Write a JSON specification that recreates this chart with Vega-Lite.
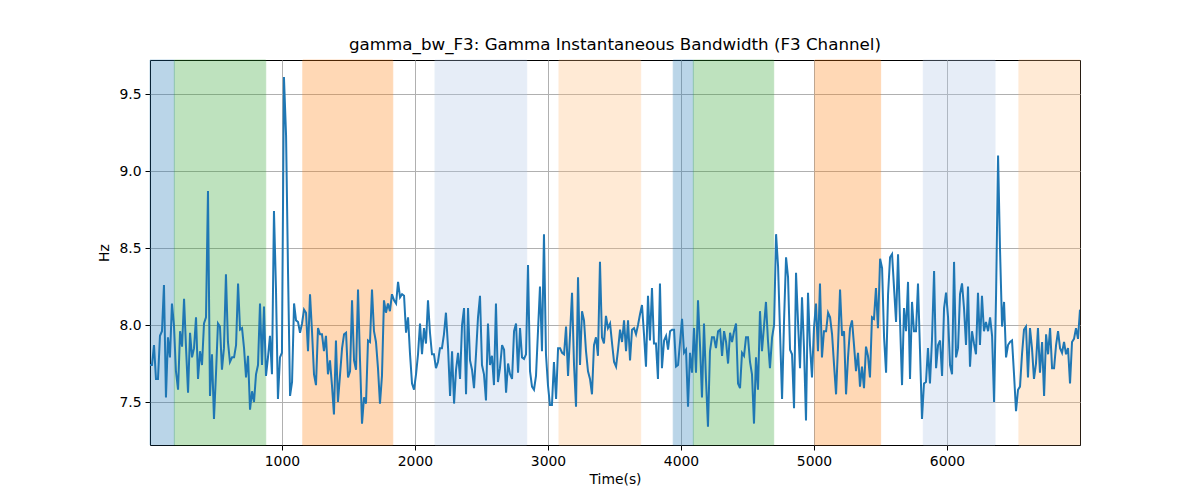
{
"$schema": "https://vega.github.io/schema/vega-lite/v6.json",
"autosize": {"type": "none"},
"width": 930,
"height": 385,
"padding": {"left": 150, "top": 60, "right": 120, "bottom": 55},
"title": {"text": "gamma_bw_F3: Gamma Instantaneous Bandwidth (F3 Channel)", "font": "DejaVu Sans", "fontSize": 16.7, "fontWeight": "normal", "color": "black", "offset": 6},
"config": {
  "font": "DejaVu Sans",
  "view": {"stroke": "black", "strokeWidth": 1},
  "axis": {"grid": true, "gridColor": "#b0b0b0", "gridWidth": 1, "domain": false, "tickColor": "black", "tickSize": 5, "tickWidth": 1, "labelFont": "DejaVu Sans", "labelFontSize": 13.9, "labelColor": "black", "titleFont": "DejaVu Sans", "titleFontSize": 13.9, "titleFontWeight": "normal", "titleColor": "black"}
},
"datasets": {
  "bands": [
    {"s": 8, "e": 191, "c": "b"}, {"s": 191, "e": 878, "c": "g"}, {"s": 1157, "e": 1833, "c": "o"}, {"s": 2151, "e": 2840, "c": "lb"}, {"s": 3083, "e": 3697, "c": "lo"},
    {"s": 3942, "e": 4093, "c": "b"}, {"s": 4093, "e": 4697, "c": "g"}, {"s": 5007, "e": 5501, "c": "o"}, {"s": 5822, "e": 6361, "c": "lb"}, {"s": 6541, "e": 7000, "c": "lo"}
  ],
  "sig": [
{"t":8,"v":7.74},{"t":23,"v":7.74},{"t":38,"v":7.87},{"t":53,"v":7.65},{"t":68,"v":7.65},{"t":83,"v":7.93},{"t":98,"v":7.96},{"t":113,"v":8.26},{"t":128,"v":7.53},{"t":143,"v":7.92},
{"t":158,"v":7.79},{"t":173,"v":8.14},{"t":188,"v":8.00},{"t":203,"v":7.70},{"t":219,"v":7.58},{"t":234,"v":7.96},{"t":249,"v":7.86},{"t":264,"v":8.17},{"t":279,"v":7.85},{"t":294,"v":7.56},
{"t":309,"v":7.95},{"t":324,"v":7.79},{"t":339,"v":7.85},{"t":354,"v":8.05},{"t":369,"v":7.65},{"t":384,"v":7.83},{"t":399,"v":7.74},{"t":414,"v":8.01},{"t":429,"v":8.05},{"t":444,"v":8.87},
{"t":459,"v":7.54},{"t":474,"v":7.81},{"t":489,"v":7.39},{"t":504,"v":7.68},{"t":519,"v":8.01},{"t":534,"v":7.99},{"t":549,"v":7.71},{"t":564,"v":7.85},{"t":579,"v":8.33},{"t":594,"v":7.89},
{"t":609,"v":7.76},{"t":625,"v":7.79},{"t":640,"v":7.79},{"t":655,"v":7.87},{"t":670,"v":8.27},{"t":685,"v":7.97},{"t":700,"v":7.98},{"t":715,"v":7.85},{"t":730,"v":7.66},{"t":745,"v":7.80},
{"t":760,"v":7.45},{"t":775,"v":7.57},{"t":790,"v":7.50},{"t":805,"v":7.68},{"t":820,"v":7.74},{"t":835,"v":8.14},{"t":850,"v":7.74},{"t":865,"v":8.12},{"t":880,"v":7.67},{"t":895,"v":7.79},
{"t":910,"v":7.93},{"t":925,"v":7.68},{"t":940,"v":8.74},{"t":955,"v":8.24},{"t":970,"v":7.52},{"t":985,"v":7.79},{"t":1000,"v":7.82},{"t":1015,"v":9.61},{"t":1031,"v":9.23},{"t":1046,"v":8.33},
{"t":1061,"v":7.54},{"t":1076,"v":7.63},{"t":1091,"v":8.14},{"t":1106,"v":8.03},{"t":1121,"v":8.02},{"t":1136,"v":7.95},{"t":1151,"v":8.01},{"t":1166,"v":8.10},{"t":1181,"v":8.08},{"t":1196,"v":7.83},
{"t":1211,"v":8.20},{"t":1226,"v":7.96},{"t":1241,"v":7.68},{"t":1256,"v":7.61},{"t":1271,"v":7.98},{"t":1286,"v":7.94},{"t":1301,"v":7.94},{"t":1316,"v":7.83},{"t":1331,"v":7.93},{"t":1346,"v":7.68},
{"t":1361,"v":7.77},{"t":1376,"v":7.61},{"t":1391,"v":7.42},{"t":1406,"v":7.90},{"t":1421,"v":7.50},{"t":1437,"v":7.68},{"t":1452,"v":7.85},{"t":1467,"v":7.94},{"t":1482,"v":7.95},{"t":1497,"v":7.66},
{"t":1512,"v":7.70},{"t":1527,"v":8.16},{"t":1542,"v":7.77},{"t":1557,"v":7.71},{"t":1572,"v":8.23},{"t":1587,"v":7.77},{"t":1602,"v":7.36},{"t":1617,"v":7.53},{"t":1632,"v":7.49},{"t":1647,"v":7.90},
{"t":1662,"v":7.89},{"t":1677,"v":8.23},{"t":1692,"v":7.96},{"t":1707,"v":7.89},{"t":1722,"v":7.72},{"t":1737,"v":7.49},{"t":1752,"v":7.67},{"t":1767,"v":8.16},{"t":1782,"v":8.08},{"t":1797,"v":8.14},
{"t":1812,"v":8.09},{"t":1827,"v":8.20},{"t":1843,"v":8.16},{"t":1858,"v":8.14},{"t":1873,"v":8.28},{"t":1888,"v":8.18},{"t":1903,"v":8.20},{"t":1918,"v":8.19},{"t":1933,"v":7.95},{"t":1948,"v":8.05},
{"t":1963,"v":7.81},{"t":1978,"v":7.62},{"t":1993,"v":7.58},{"t":2008,"v":7.68},{"t":2023,"v":7.81},{"t":2038,"v":8.01},{"t":2053,"v":7.81},{"t":2068,"v":7.98},{"t":2083,"v":7.88},{"t":2098,"v":8.16},
{"t":2113,"v":7.95},{"t":2128,"v":7.81},{"t":2143,"v":7.81},{"t":2158,"v":7.72},{"t":2173,"v":7.76},{"t":2188,"v":7.85},{"t":2203,"v":7.85},{"t":2218,"v":7.94},{"t":2233,"v":8.08},{"t":2249,"v":7.85},
{"t":2264,"v":7.54},{"t":2279,"v":7.83},{"t":2294,"v":7.49},{"t":2309,"v":7.71},{"t":2324,"v":7.82},{"t":2339,"v":7.65},{"t":2354,"v":8.00},{"t":2369,"v":8.11},{"t":2384,"v":7.55},{"t":2399,"v":8.11},
{"t":2414,"v":7.77},{"t":2429,"v":7.71},{"t":2444,"v":7.59},{"t":2459,"v":7.81},{"t":2474,"v":8.05},{"t":2489,"v":8.19},{"t":2504,"v":7.74},{"t":2519,"v":7.68},{"t":2534,"v":7.51},{"t":2549,"v":8.01},
{"t":2564,"v":7.74},{"t":2579,"v":7.80},{"t":2594,"v":7.61},{"t":2609,"v":8.14},{"t":2624,"v":7.63},{"t":2639,"v":7.72},{"t":2655,"v":7.87},{"t":2670,"v":7.84},{"t":2685,"v":7.56},{"t":2700,"v":7.75},
{"t":2715,"v":7.68},{"t":2730,"v":7.65},{"t":2745,"v":7.96},{"t":2760,"v":8.01},{"t":2775,"v":7.69},{"t":2790,"v":7.98},{"t":2805,"v":7.79},{"t":2820,"v":7.78},{"t":2835,"v":7.81},{"t":2850,"v":8.39},
{"t":2865,"v":7.70},{"t":2880,"v":7.60},{"t":2895,"v":7.58},{"t":2910,"v":7.67},{"t":2925,"v":7.96},{"t":2940,"v":8.25},{"t":2955,"v":7.83},{"t":2970,"v":8.59},{"t":2985,"v":7.81},{"t":3000,"v":7.61},
{"t":3015,"v":7.48},{"t":3030,"v":7.48},{"t":3045,"v":7.76},{"t":3061,"v":7.52},{"t":3076,"v":7.85},{"t":3091,"v":7.85},{"t":3106,"v":7.82},{"t":3121,"v":7.81},{"t":3136,"v":7.99},{"t":3151,"v":7.67},
{"t":3166,"v":7.94},{"t":3181,"v":8.21},{"t":3196,"v":7.74},{"t":3211,"v":7.47},{"t":3226,"v":8.31},{"t":3241,"v":7.74},{"t":3256,"v":8.09},{"t":3271,"v":8.03},{"t":3286,"v":7.83},{"t":3301,"v":7.70},
{"t":3316,"v":7.65},{"t":3331,"v":7.55},{"t":3346,"v":7.87},{"t":3361,"v":7.92},{"t":3376,"v":7.80},{"t":3391,"v":8.41},{"t":3406,"v":7.92},{"t":3421,"v":7.88},{"t":3436,"v":8.06},{"t":3451,"v":7.98},
{"t":3467,"v":8.01},{"t":3482,"v":7.88},{"t":3497,"v":7.76},{"t":3512,"v":7.73},{"t":3527,"v":7.84},{"t":3542,"v":7.97},{"t":3557,"v":7.89},{"t":3572,"v":8.03},{"t":3587,"v":7.83},{"t":3602,"v":8.03},
{"t":3617,"v":7.77},{"t":3632,"v":7.97},{"t":3647,"v":7.98},{"t":3662,"v":7.94},{"t":3677,"v":8.00},{"t":3692,"v":8.07},{"t":3707,"v":8.13},{"t":3722,"v":7.94},{"t":3737,"v":7.73},{"t":3752,"v":8.19},
{"t":3767,"v":7.90},{"t":3782,"v":8.24},{"t":3797,"v":7.88},{"t":3812,"v":7.88},{"t":3827,"v":7.65},{"t":3842,"v":8.27},{"t":3857,"v":7.72},{"t":3873,"v":7.90},{"t":3888,"v":7.93},{"t":3903,"v":7.84},
{"t":3918,"v":7.96},{"t":3933,"v":7.97},{"t":3948,"v":7.97},{"t":3963,"v":7.73},{"t":3978,"v":7.74},{"t":3993,"v":7.89},{"t":4008,"v":8.04},{"t":4023,"v":7.82},{"t":4038,"v":7.84},{"t":4053,"v":7.47},
{"t":4068,"v":7.82},{"t":4083,"v":7.69},{"t":4098,"v":7.98},{"t":4113,"v":7.69},{"t":4128,"v":8.16},{"t":4143,"v":7.87},{"t":4158,"v":7.53},{"t":4173,"v":8.01},{"t":4188,"v":7.65},{"t":4203,"v":7.34},
{"t":4218,"v":7.83},{"t":4233,"v":7.92},{"t":4248,"v":7.92},{"t":4263,"v":7.85},{"t":4279,"v":7.96},{"t":4294,"v":7.97},{"t":4309,"v":7.80},{"t":4324,"v":7.96},{"t":4339,"v":7.89},{"t":4354,"v":7.75},
{"t":4369,"v":7.95},{"t":4384,"v":7.89},{"t":4399,"v":7.96},{"t":4414,"v":8.01},{"t":4429,"v":7.62},{"t":4444,"v":7.59},{"t":4459,"v":7.82},{"t":4474,"v":7.80},{"t":4489,"v":7.92},{"t":4504,"v":7.92},
{"t":4519,"v":7.76},{"t":4534,"v":7.68},{"t":4549,"v":7.36},{"t":4564,"v":7.79},{"t":4579,"v":7.58},{"t":4594,"v":8.09},{"t":4609,"v":7.83},{"t":4624,"v":7.99},{"t":4639,"v":8.15},{"t":4654,"v":7.90},
{"t":4669,"v":7.72},{"t":4685,"v":7.92},{"t":4700,"v":8.00},{"t":4715,"v":8.59},{"t":4730,"v":8.38},{"t":4745,"v":7.95},{"t":4760,"v":7.52},{"t":4775,"v":8.03},{"t":4790,"v":8.44},{"t":4805,"v":8.31},
{"t":4820,"v":7.84},{"t":4835,"v":7.81},{"t":4850,"v":7.46},{"t":4865,"v":8.34},{"t":4880,"v":8.02},{"t":4895,"v":7.72},{"t":4910,"v":8.18},{"t":4925,"v":7.85},{"t":4940,"v":7.38},{"t":4955,"v":8.21},
{"t":4970,"v":7.87},{"t":4985,"v":7.66},{"t":5000,"v":7.98},{"t":5015,"v":8.14},{"t":5030,"v":7.83},{"t":5045,"v":8.27},{"t":5060,"v":7.79},{"t":5075,"v":7.96},{"t":5091,"v":7.96},{"t":5106,"v":8.08},
{"t":5121,"v":8.05},{"t":5136,"v":7.94},{"t":5151,"v":7.74},{"t":5166,"v":7.55},{"t":5181,"v":7.87},{"t":5196,"v":8.23},{"t":5211,"v":7.93},{"t":5226,"v":7.96},{"t":5241,"v":7.55},{"t":5256,"v":7.79},
{"t":5271,"v":7.98},{"t":5286,"v":8.03},{"t":5301,"v":7.87},{"t":5316,"v":7.70},{"t":5331,"v":7.82},{"t":5346,"v":7.60},{"t":5361,"v":7.73},{"t":5376,"v":7.59},{"t":5391,"v":7.86},{"t":5406,"v":7.80},
{"t":5421,"v":7.66},{"t":5436,"v":8.05},{"t":5451,"v":8.04},{"t":5466,"v":8.24},{"t":5481,"v":7.98},{"t":5497,"v":8.43},{"t":5512,"v":8.37},{"t":5527,"v":7.92},{"t":5542,"v":7.69},{"t":5557,"v":8.20},
{"t":5572,"v":8.44},{"t":5587,"v":8.46},{"t":5602,"v":8.24},{"t":5617,"v":8.02},{"t":5632,"v":8.46},{"t":5647,"v":8.02},{"t":5662,"v":7.61},{"t":5677,"v":8.11},{"t":5692,"v":7.96},{"t":5707,"v":8.28},
{"t":5722,"v":7.65},{"t":5737,"v":8.15},{"t":5752,"v":7.96},{"t":5767,"v":7.96},{"t":5782,"v":8.27},{"t":5797,"v":7.84},{"t":5812,"v":7.39},{"t":5827,"v":7.62},{"t":5842,"v":7.63},{"t":5857,"v":7.85},
{"t":5872,"v":7.62},{"t":5887,"v":7.90},{"t":5903,"v":8.35},{"t":5918,"v":7.72},{"t":5933,"v":7.87},{"t":5948,"v":7.90},{"t":5963,"v":7.67},{"t":5978,"v":8.11},{"t":5993,"v":8.21},{"t":6008,"v":8.05},
{"t":6023,"v":7.74},{"t":6038,"v":7.68},{"t":6053,"v":8.41},{"t":6068,"v":7.79},{"t":6083,"v":7.85},{"t":6098,"v":8.20},{"t":6113,"v":8.27},{"t":6128,"v":8.11},{"t":6143,"v":7.87},{"t":6158,"v":8.25},
{"t":6173,"v":7.73},{"t":6188,"v":7.96},{"t":6203,"v":7.88},{"t":6218,"v":7.81},{"t":6233,"v":8.21},{"t":6248,"v":7.87},{"t":6263,"v":8.19},{"t":6278,"v":7.96},{"t":6293,"v":8.02},{"t":6309,"v":7.96},
{"t":6324,"v":8.05},{"t":6339,"v":7.93},{"t":6354,"v":7.50},{"t":6369,"v":8.20},{"t":6384,"v":9.10},{"t":6399,"v":8.48},{"t":6414,"v":7.99},{"t":6429,"v":8.15},{"t":6444,"v":7.79},{"t":6459,"v":7.87},
{"t":6474,"v":7.89},{"t":6489,"v":7.90},{"t":6504,"v":7.68},{"t":6519,"v":7.44},{"t":6534,"v":7.58},{"t":6549,"v":7.60},{"t":6564,"v":7.81},{"t":6579,"v":7.97},{"t":6594,"v":7.99},{"t":6609,"v":7.66},
{"t":6624,"v":7.98},{"t":6639,"v":7.85},{"t":6654,"v":7.65},{"t":6669,"v":7.75},{"t":6684,"v":7.98},{"t":6699,"v":7.69},{"t":6715,"v":7.89},{"t":6730,"v":7.54},{"t":6745,"v":7.94},{"t":6760,"v":7.81},
{"t":6775,"v":7.98},{"t":6790,"v":7.72},{"t":6805,"v":7.72},{"t":6820,"v":7.87},{"t":6835,"v":7.96},{"t":6850,"v":7.85},{"t":6865,"v":7.82},{"t":6880,"v":7.89},{"t":6895,"v":7.81},{"t":6910,"v":7.85},
{"t":6925,"v":7.62},{"t":6940,"v":7.89},{"t":6955,"v":7.91},{"t":6970,"v":7.98},{"t":6985,"v":7.91},{"t":7000,"v":8.10}
  ]
},
"layer": [
  {
    "data": {"name": "bands"},
    "mark": {"type": "rect", "opacity": 0.3, "strokeWidth": 1},
    "encoding": {
      "x": {"field": "s", "type": "quantitative", "scale": {"domain": [8, 7000], "nice": false, "zero": false}, "axis": {"values": [1000, 2000, 3000, 4000, 5000, 6000], "format": "d", "title": "Time(s)", "labelPadding": 4, "titlePadding": 5}},
      "x2": {"field": "e"},
      "color": {"field": "c", "type": "nominal", "scale": {"domain": ["b", "g", "o", "lb", "lo"], "range": ["#1f77b4", "#2ca02c", "#ff7f0e", "#aec7e8", "#ffbb78"]}, "legend": null},
      "stroke": {"field": "c", "type": "nominal", "scale": {"domain": ["b", "g", "o", "lb", "lo"], "range": ["#1f77b4", "#2ca02c", "#ff7f0e", "#aec7e8", "#ffbb78"]}, "legend": null}
    }
  },
  {
    "data": {"name": "sig"},
    "mark": {"type": "line", "color": "#1f77b4", "strokeWidth": 2, "clip": true},
    "encoding": {
      "x": {"field": "t", "type": "quantitative", "scale": {"domain": [8, 7000], "nice": false, "zero": false}, "axis": {"values": [1000, 2000, 3000, 4000, 5000, 6000], "format": "d", "title": "Time(s)", "labelPadding": 4, "titlePadding": 5}},
      "y": {"field": "v", "type": "quantitative", "scale": {"domain": [7.221, 9.721], "nice": false, "zero": false}, "axis": {"values": [7.5, 8.0, 8.5, 9.0, 9.5], "format": ".1f", "title": "Hz", "labelPadding": 4, "titlePadding": 7}}
    }
  }
]
}
